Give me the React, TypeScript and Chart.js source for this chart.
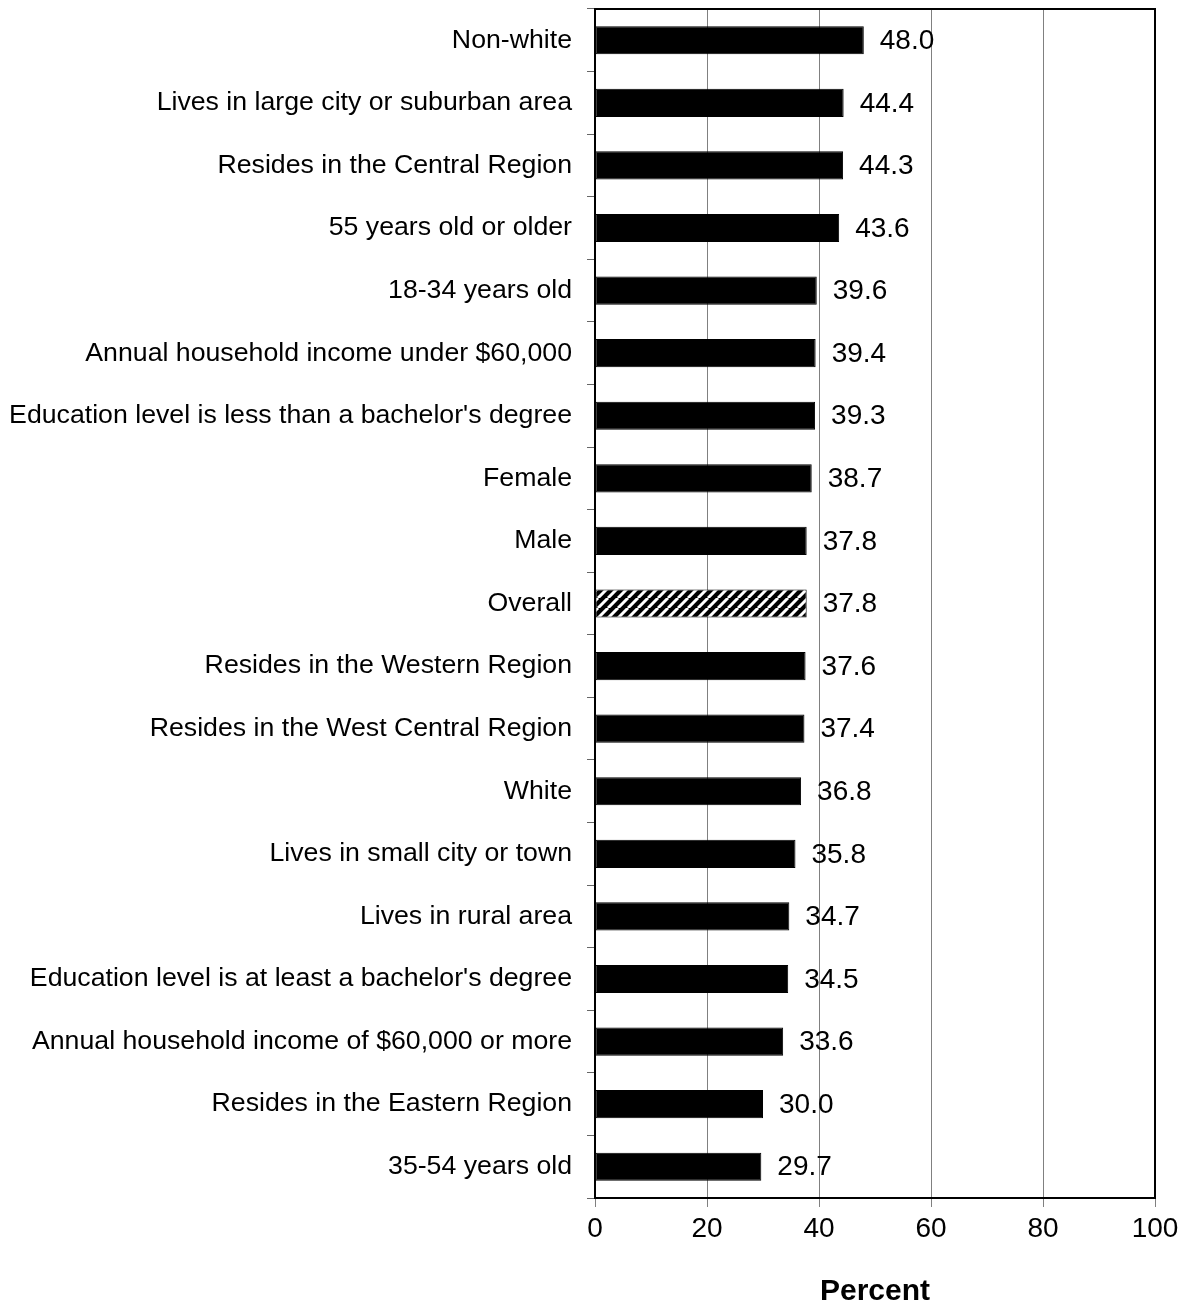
import React, { useEffect, useRef } from "react";
import { Chart, registerables } from "chart.js";

Chart.register(...registerables);

const categories: string[] = [
  "Non-white",
  "Lives in large city or suburban area",
  "Resides in the Central Region",
  "55 years old or older",
  "18-34 years old",
  "Annual household income under $60,000",
  "Education level is less than a bachelor's degree",
  "Female",
  "Male",
  "Overall",
  "Resides in the Western Region",
  "Resides in the West Central Region",
  "White",
  "Lives in small city or town",
  "Lives in rural area",
  "Education level is at least a bachelor's degree",
  "Annual household income of $60,000 or more",
  "Resides in the Eastern Region",
  "35-54 years old",
];

const percentValues: number[] = [
  48.0, 44.4, 44.3, 43.6, 39.6, 39.4, 39.3, 38.7, 37.8, 37.8, 37.6, 37.4, 36.8,
  35.8, 34.7, 34.5, 33.6, 30.0, 29.7,
];

const xTicks: number[] = [0, 20, 40, 60, 80, 100];
const highlightCategory = "Overall";
const axisTitle = "Percent";

const FONT = "'Liberation Sans', Arial, Helvetica, sans-serif";

function makeHatch(): CanvasPattern | string {
  const size = 10;
  const c = document.createElement("canvas");
  c.width = size;
  c.height = size;
  const g = c.getContext("2d");
  if (!g) return "#000";
  g.fillStyle = "#000";
  g.fillRect(0, 0, size, size);
  g.strokeStyle = "#fff";
  g.lineWidth = 3;
  g.beginPath();
  for (let k = -1; k <= 1; k++) {
    g.moveTo(k * size, size);
    g.lineTo(k * size + size, 0);
  }
  g.stroke();
  const p = g.createPattern(c, "repeat");
  return p || "#000";
}

export default function App() {
  const ref = useRef<HTMLCanvasElement | null>(null);

  useEffect(() => {
    const canvas = ref.current;
    if (!canvas) return;
    document.body.style.marginBottom = "0px";
    const hatch = makeHatch();
    const colors = categories.map((c) => (c === highlightCategory ? hatch : "#000"));

    const frame = {
      id: "frame",
      afterDraw(chart: any) {
        const { ctx, chartArea } = chart;
        ctx.save();
        ctx.strokeStyle = "#000";
        ctx.lineWidth = 2;
        ctx.strokeRect(chartArea.left, chartArea.top, chartArea.right - chartArea.left, chartArea.bottom - chartArea.top);
        ctx.restore();
      },
    };

    const valueLabels = {
      id: "valueLabels",
      afterDatasetsDraw(chart: any) {
        const { ctx } = chart;
        const meta = chart.getDatasetMeta(0);
        ctx.save();
        ctx.font = `28px ${FONT}`;
        ctx.fillStyle = "#000";
        ctx.textAlign = "left";
        ctx.textBaseline = "middle";
        meta.data.forEach((bar: any, i: number) => {
          ctx.fillText(percentValues[i].toFixed(1), bar.x + 16, bar.y + 1);
        });
        ctx.restore();
      },
    };

    const chart = new Chart(canvas, {
      type: "bar",
      data: {
        labels: categories,
        datasets: [
          {
            data: percentValues,
            backgroundColor: colors as any,
            borderColor: "#000",
            borderWidth: 1,
            borderSkipped: false,
            barPercentage: 0.45,
            categoryPercentage: 1,
          },
        ],
      },
      options: {
        indexAxis: "y",
        responsive: false,
        animation: false,
        layout: { padding: { top: 1, right: 31, left: 0, bottom: 0 } },
        plugins: {
          legend: { display: false },
          tooltip: { enabled: false },
          title: { display: false },
        },
        scales: {
          x: {
            type: "linear",
            min: 0,
            max: 100,
            afterBuildTicks(scale: any) {
              scale.ticks = xTicks.map((v) => ({ value: v }));
            },
            afterFit(scale: any) {
              scale.height = 106;
            },
            grid: {
              color: "#808080",
              lineWidth: 1,
              tickLength: 9,
              tickColor: "#808080",
              drawOnChartArea: true,
            },
            border: { display: true, color: "#000", width: 2 },
            ticks: {
              color: "#000",
              font: { family: FONT, size: 28 },
              padding: 5,
              maxRotation: 0,
            },
            title: {
              display: true,
              text: axisTitle,
              color: "#000",
              font: { family: FONT, size: 30, weight: "bold" },
              padding: { top: 0, bottom: -6 },
            },
          },
          y: {
            type: "category",
            afterFit(scale: any) {
              scale.width = 587;
              scale.paddingTop = 0;
              scale.paddingBottom = 0;
            },
            grid: {
              drawOnChartArea: false,
              tickLength: 8,
              color: "#666",
              lineWidth: 1,
            },
            border: { display: true, color: "#000", width: 2 },
            ticks: {
              color: "#000",
              font: { family: FONT, size: 26.7 },
              padding: 15,
              autoSkip: false,
            },
          },
        },
      },
      plugins: [frame, valueLabels],
    });

    return () => chart.destroy();
  }, []);

  return (
    <div style={{ width: 1178, height: 1296 }}>
      <canvas ref={ref} width={1178} height={1296} style={{ display: "block" }} />
    </div>
  );
}
